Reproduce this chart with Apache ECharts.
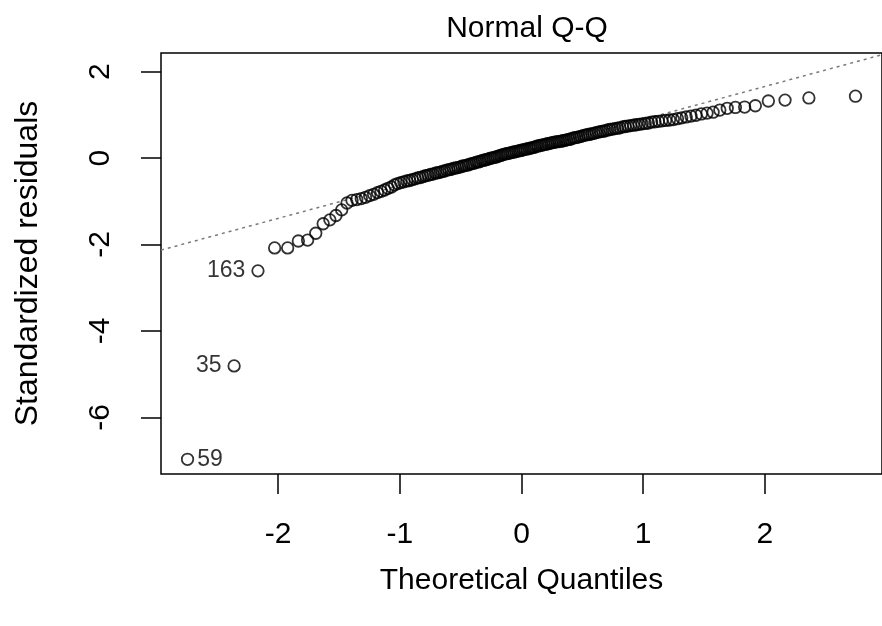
<!DOCTYPE html>
<html>
<head>
<meta charset="utf-8">
<title>Normal Q-Q</title>
<script src="https://cdn.jsdelivr.net/npm/echarts@6/dist/echarts.min.js"></script>
<style>
  html, body { margin: 0; padding: 0; background: #fff; }
  #chart { width: 882px; height: 626px; }
</style>
</head>
<body>
<div id="chart"></div>
<script>
// theoretical quantiles (x) and sorted standardized residuals (y)
var theoQuantiles = [
  -2.745, -2.362, -2.166, -2.029, -1.922, -1.834, -1.758, -1.691, -1.630, -1.575,
  -1.525, -1.478, -1.434, -1.393, -1.354, -1.317, -1.282, -1.248, -1.216, -1.184,
  -1.154, -1.125, -1.097, -1.069, -1.043, -1.017, -0.992, -0.967, -0.943, -0.920,
  -0.897, -0.874, -0.852, -0.831, -0.809, -0.789, -0.768, -0.748, -0.728, -0.708,
  -0.689, -0.670, -0.651, -0.632, -0.614, -0.595, -0.577, -0.559, -0.542, -0.524,
  -0.507, -0.490, -0.473, -0.456, -0.439, -0.423, -0.406, -0.390, -0.373, -0.357,
  -0.341, -0.325, -0.309, -0.294, -0.278, -0.262, -0.247, -0.231, -0.216, -0.200,
  -0.185, -0.169, -0.154, -0.137, -0.122, -0.107, -0.091, -0.076, -0.061, -0.046,
  -0.030, -0.015, 0,
  0.015, 0.030, 0.046, 0.061, 0.076, 0.091, 0.107, 0.122, 0.137, 0.154,
  0.169, 0.185, 0.200, 0.216, 0.231, 0.247, 0.262, 0.278, 0.294, 0.309,
  0.325, 0.341, 0.357, 0.373, 0.390, 0.406, 0.423, 0.439, 0.456, 0.473,
  0.490, 0.507, 0.524, 0.542, 0.559, 0.577, 0.595, 0.614, 0.632, 0.651,
  0.670, 0.689, 0.708, 0.728, 0.748, 0.768, 0.789, 0.809, 0.831, 0.852,
  0.874, 0.897, 0.920, 0.943, 0.967, 0.992, 1.017, 1.043, 1.069, 1.097,
  1.125, 1.154, 1.184, 1.216, 1.248, 1.282, 1.317, 1.354, 1.393, 1.434,
  1.478, 1.525, 1.575, 1.630, 1.691, 1.758, 1.834, 1.922, 2.029, 2.166,
  2.362, 2.745
];
var stdResiduals = [
  -6.97, -4.81, -2.61, -2.08, -2.08, -1.92, -1.90, -1.74, -1.52, -1.43,
  -1.33, -1.20, -1.04, -0.98, -0.96, -0.94, -0.91, -0.87, -0.84, -0.80,
  -0.77, -0.74, -0.70, -0.67, -0.62, -0.59, -0.57, -0.55, -0.53, -0.52,
  -0.50, -0.48, -0.46, -0.45, -0.43, -0.41, -0.40, -0.38, -0.37, -0.35,
  -0.34, -0.33, -0.31, -0.30, -0.28, -0.27, -0.26, -0.24, -0.23, -0.22,
  -0.21, -0.19, -0.18, -0.17, -0.16, -0.14, -0.13, -0.12, -0.10, -0.09,
  -0.08, -0.06, -0.05, -0.04, -0.03, -0.01, 0.00, 0.01, 0.02, 0.03,
  0.05, 0.06, 0.08, 0.09, 0.10, 0.11, 0.12, 0.13, 0.14, 0.15,
  0.16, 0.17, 0.18, 0.19, 0.20, 0.21, 0.22, 0.23, 0.24, 0.25,
  0.27, 0.28, 0.29, 0.30, 0.31, 0.32, 0.33, 0.34, 0.35, 0.36,
  0.37, 0.38, 0.38, 0.39, 0.40, 0.41, 0.42, 0.43, 0.44, 0.46,
  0.47, 0.48, 0.49, 0.50, 0.52, 0.53, 0.54, 0.55, 0.56, 0.57,
  0.59, 0.60, 0.61, 0.62, 0.63, 0.65, 0.66, 0.67, 0.68, 0.69,
  0.70, 0.72, 0.73, 0.74, 0.75, 0.76, 0.77, 0.78, 0.79, 0.80,
  0.81, 0.83, 0.84, 0.85, 0.86, 0.87, 0.88, 0.89, 0.91, 0.93,
  0.95, 0.97, 0.99, 1.02, 1.04, 1.06, 1.11, 1.15, 1.17, 1.18,
  1.21, 1.32, 1.34, 1.39, 1.43
];
// labelled observations (rank index -> row name)
var outlierRanks = [0, 1, 2];
var outlierNames = ["59", "35", "163"];
// reference line through the quartiles, read at the plot edges
var qqLineX = [-2.963, 2.963];
var qqLineY = [-2.13, 2.39];
var xTicks = [-2, -1, 0, 1, 2];
var yTicks = [-6, -4, -2, 0, 2];

var FONT = "'Liberation Sans', Arial, sans-serif";
var labelSide = ["right", "left", "left"];

var myChart = echarts.init(document.getElementById("chart"));

var points = [];
for (var i = 0; i < theoQuantiles.length; i++) {
  var pt = { value: [theoQuantiles[i], stdResiduals[i]] };
  var k = outlierRanks.indexOf(i);
  if (k >= 0) {
    pt.label = {
      show: true,
      formatter: outlierNames[k],
      position: labelSide[k],
      distance: k === 0 ? 3 : 6,
      color: "#000",
      fontSize: 23,
      fontFamily: FONT
    };
  }
  points.push(pt);
}

var lineData = [];
for (var j = 0; j < qqLineX.length; j++) {
  lineData.push([qqLineX[j], qqLineY[j]]);
}

var option = {
  animation: false,
  backgroundColor: "#fff",
  title: {
    text: "Normal Q-Q",
    left: 522,
    textAlign: "center",
    top: 9,
    textStyle: { fontFamily: FONT, fontSize: 30, fontWeight: "normal", color: "#000" }
  },
  grid: {
    left: 161,
    top: 53,
    right: -11,
    bottom: 152,
    show: true,
    borderColor: "#000",
    borderWidth: 1.5,
    backgroundColor: "transparent"
  },
  xAxis: {
    type: "value",
    min: -2.963,
    max: 2.963,
    name: "Theoretical Quantiles",
    nameLocation: "middle",
    nameGap: 92,
    nameTextStyle: { fontFamily: FONT, fontSize: 30, color: "#000" },
    splitLine: { show: false },
    axisLine: { show: false, onZero: false },
    axisTick: {
      show: true,
      length: 20,
      customValues: xTicks,
      lineStyle: { color: "#000", width: 1.5 }
    },
    axisLabel: {
      customValues: xTicks,
      margin: 46,
      fontFamily: FONT,
      fontSize: 30,
      color: "#000"
    }
  },
  yAxis: {
    type: "value",
    min: -7.31,
    max: 2.43,
    name: "Standardized residuals",
    nameLocation: "middle",
    nameGap: 117,
    nameRotate: 90,
    nameTextStyle: { fontFamily: FONT, fontSize: 32, color: "#000" },
    splitLine: { show: false },
    axisLine: { show: false, onZero: false },
    axisTick: {
      show: true,
      length: 20,
      customValues: yTicks,
      lineStyle: { color: "#000", width: 1.5 }
    },
    axisLabel: {
      customValues: yTicks,
      rotate: 90,
      margin: 45,
      fontFamily: FONT,
      fontSize: 30,
      color: "#000"
    }
  },
  series: [
    {
      type: "line",
      data: lineData,
      showSymbol: false,
      silent: true,
      clip: true,
      z: 1,
      lineStyle: { color: "#7a7a7a", width: 1.5, type: [3, 4] }
    },
    {
      type: "scatter",
      data: points,
      symbol: "circle",
      symbolSize: 11.5,
      silent: true,
      z: 2,
      itemStyle: { color: "rgba(0,0,0,0)", borderColor: "#000", borderWidth: 1.8 }
    }
  ]
};

myChart.setOption(option);
</script>
</body>
</html>
